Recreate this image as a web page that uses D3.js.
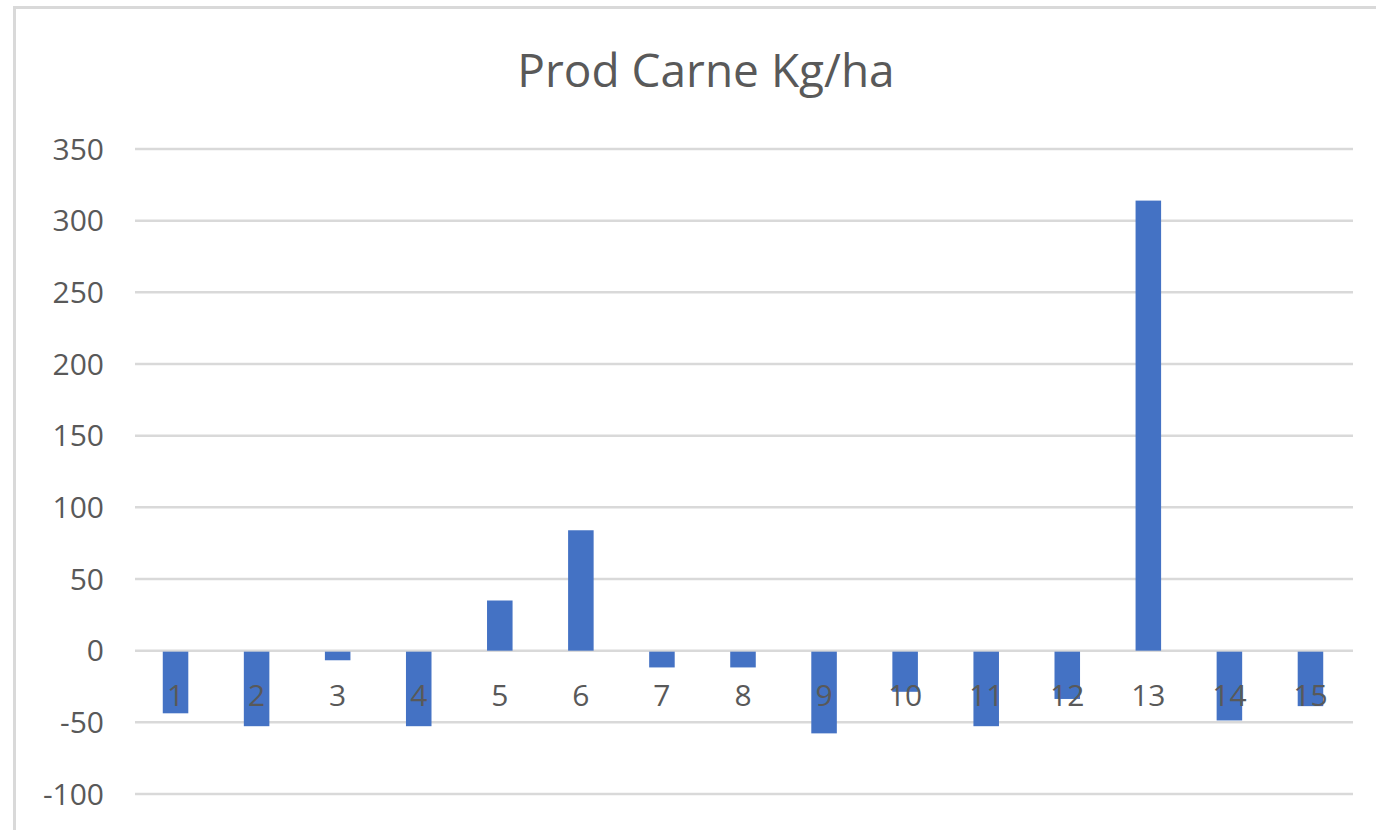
<!DOCTYPE html>
<html>
<head>
<meta charset="utf-8">
<script src="https://cdn.jsdelivr.net/npm/d3@7"></script>
<style>
  body { margin: 0; background: #fff; }
  svg { display: block; }
  text { font-family: "Open Sans", "Noto Sans", sans-serif; fill: #595959; }
</style>
</head>
<body>
<script>
var categories = ["1","2","3","4","5","6","7","8","9","10","11","12","13","14","15"];
var values = [-43, -52, -6, -52, 35, 84, -11, -11, -57, -28, -52, -33, 314, -48, -38];
var yTicks = [-100, -50, 0, 50, 100, 150, 200, 250, 300, 350];
var title = "Prod Carne Kg/ha";

var width = 1376, height = 830;
var margin = {left: 135, right: 25, top: 149, bottom: 36};

var svg = d3.select("body").append("svg")
  .attr("width", width)
  .attr("height", height);

// chart area border (Excel style)
svg.append("rect")
  .attr("x", 14.5).attr("y", 7.5)
  .attr("width", 1400).attr("height", 900)
  .attr("fill", "none")
  .attr("stroke", "#d9d9d9")
  .attr("stroke-width", 3);

var x = d3.scaleBand()
  .domain(categories)
  .range([margin.left, width - margin.right])
  .paddingInner(0.685)
  .paddingOuter(0.3425);

var y = d3.scaleLinear()
  .domain([-100, 350])
  .range([794, 149]);

// gridlines
svg.append("g")
  .selectAll("line")
  .data(yTicks)
  .enter().append("line")
    .attr("x1", margin.left)
    .attr("x2", width - margin.right + 2)
    .attr("y1", function(d) { return y(d); })
    .attr("y2", function(d) { return y(d); })
    .attr("stroke", "#d9d9d9")
    .attr("stroke-width", 2.5);

// y labels
svg.append("g")
  .selectAll("text")
  .data(yTicks)
  .enter().append("text")
    .attr("x", 104)
    .attr("y", function(d) { return y(d); })
    .attr("dy", "0.36em")
    .attr("text-anchor", "end")
    .style("font-size", "30px")
    .text(function(d) { return d; });

// bars
svg.append("g")
  .selectAll("rect")
  .data(values)
  .enter().append("rect")
    .attr("x", function(d, i) { return x(categories[i]); })
    .attr("width", x.bandwidth())
    .attr("y", function(d) { return d >= 0 ? y(d) : y(0) + 1; })
    .attr("height", function(d) { return Math.abs(y(d) - y(0)); })
    .attr("fill", "#4472c4");

// category labels sit over the bars, like the original
svg.append("g")
  .selectAll("text")
  .data(categories)
  .enter().append("text")
    .attr("x", function(d) { return x(d) + x.bandwidth() / 2; })
    .attr("y", 706)
    .attr("text-anchor", "middle")
    .style("font-size", "30px")
    .text(function(d) { return d; });

svg.append("text")
  .attr("x", 706)
  .attr("y", 87)
  .attr("text-anchor", "middle")
  .style("font-size", "46px")
  .text(title);
</script>
</body>
</html>
